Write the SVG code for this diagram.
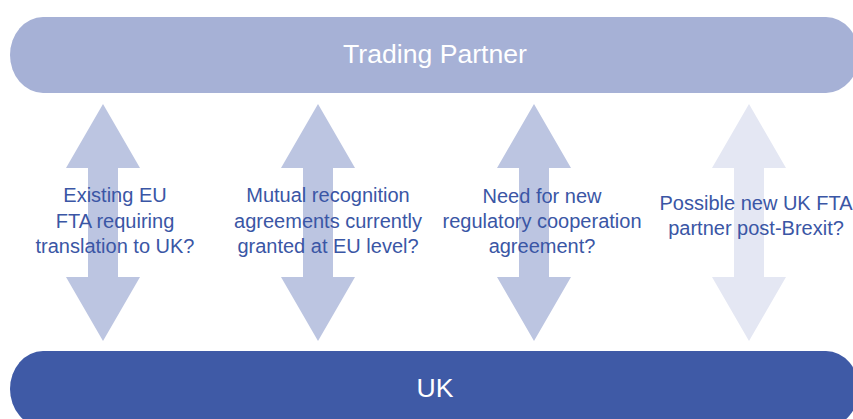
<svg xmlns="http://www.w3.org/2000/svg" width="853" height="419" viewBox="0 0 853 419">
  <defs>
    <!-- double-headed vertical arrow, centred on x=0 -->
    <path id="dbl" d="M0,104 L37,168 L15,168 L15,277 L37,277 L0,341 L-37,277 L-15,277 L-15,168 L-37,168 Z"/>
  </defs>
  <style>
    .bar-label { font-family: "Liberation Sans", Arial, sans-serif; font-size: 26.6px; fill: #ffffff; text-anchor: middle; }
    .q { font-family: "Liberation Sans", Arial, sans-serif; font-size: 20px; fill: #3a56a5; text-anchor: middle; }
    .arrow { fill: #bcc5e1; }
    .arrow-faint { fill: #e4e7f3; }
  </style>
  <rect width="853" height="419" fill="#ffffff"/>

  <g id="trading-partner">
    <rect x="10" y="17" width="849" height="76" rx="33" ry="38" fill="#a6b1d6"/>
    <text class="bar-label" x="435" y="63">Trading Partner</text>
  </g>

  <g id="uk">
    <rect x="10" y="351" width="849" height="76" rx="33" ry="38" fill="#3f5aa6"/>
    <text class="bar-label" x="435" y="397">UK</text>
  </g>

  <g id="connectors">
    <use href="#dbl" x="103" class="arrow"/>
    <use href="#dbl" x="318" class="arrow"/>
    <use href="#dbl" x="534" class="arrow"/>
    <use href="#dbl" x="749" class="arrow-faint"/>
  </g>

  <g id="existing-fta">
    <text class="q" x="115" y="202">Existing EU</text>
    <text class="q" x="115" y="228">FTA requiring</text>
    <text class="q" x="115" y="253">translation to UK?</text>
  </g>

  <g id="mutual-recognition">
    <text class="q" x="328" y="202">Mutual recognition</text>
    <text class="q" x="328" y="228">agreements currently</text>
    <text class="q" x="328" y="253">granted at EU level?</text>
  </g>

  <g id="regulatory-cooperation">
    <text class="q" x="542" y="203">Need for new</text>
    <text class="q" x="542" y="228">regulatory cooperation</text>
    <text class="q" x="542" y="253">agreement?</text>
  </g>

  <g id="new-fta-partner">
    <text class="q" x="756" y="210">Possible new UK FTA</text>
    <text class="q" x="756" y="235">partner post-Brexit?</text>
  </g>
</svg>
